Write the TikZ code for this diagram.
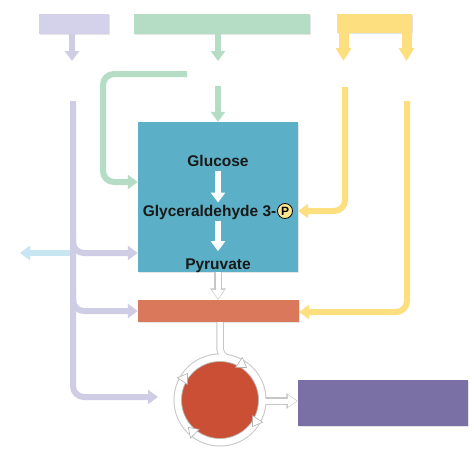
\documentclass[tikz,border=0pt]{standalone}
\usepackage{fontspec}
\setmainfont{Liberation Sans}
\usetikzlibrary{arrows.meta,shadows,calc}
\definecolor{lav}{HTML}{D4D2EA}
\definecolor{lavline}{HTML}{CFCCE6}
\definecolor{grn}{HTML}{B5DCC4}
\definecolor{yel}{HTML}{FEDF80}
\definecolor{tealbox}{HTML}{5BAFC6}
\definecolor{orng}{HTML}{D9785B}
\definecolor{redc}{HTML}{CB4F35}
\definecolor{purp}{HTML}{7A70A6}
\definecolor{lblue}{HTML}{C8E5F2}
\definecolor{pyel}{HTML}{FFE58C}
\begin{document}
\begin{tikzpicture}[x=1pt,y=-1pt,
  box/.style={draw=none, inner sep=0pt, rectangle},
  shad/.style={drop shadow={shadow xshift=1pt,shadow yshift=-1pt,opacity=0.2}},
  conn/.style={line width=6pt, -{Triangle[width=14pt,length=10pt]}, rounded corners=11pt},
  inarr/.style={white, line width=6pt, -{Triangle[width=14pt,length=10pt]}},
  wunder/.style={gray!45, line width=7.5pt, -{Triangle[width=15pt,length=11.5pt]}},
  wover/.style={white, line width=5pt, shorten >=1pt, -{Triangle[width=11.5pt,length=9pt]}},
  lbl/.style={font=\fontsize{15.5}{18}\selectfont\bfseries, text=black!90, inner sep=0pt, anchor=base},
  ringtip/.style={white, line width=0.1pt, -{Triangle[width=13pt,length=10pt,fill=white,color=gray!60,line width=0.6pt]}}
]
\fill[white] (0,0) rectangle (474,450);
\useasboundingbox (0,0) rectangle (474,450);

% boxes
\node[box, fill=lav, minimum width=70pt, minimum height=20pt, shad] (lavbox) at (74,24) {};
\node[box, fill=grn, minimum width=176pt, minimum height=20pt, shad] (grnbox) at (222,24) {};
\node[box, fill=yel, minimum width=75pt, minimum height=19pt, shad] (yelbox) at (374.5,23.5) {};
\node[box, fill=tealbox, minimum width=160pt, minimum height=150pt, shad] (glyc) at (218,197) {};
\node[box, fill=orng, minimum width=161pt, minimum height=22pt, shad] (link) at (218.5,311) {};
\node[box, fill=purp, minimum width=170pt, minimum height=46pt, shad] (etc) at (383,403) {};

% texts
\node[lbl] (glu) at (218,166.5) {Glucose};
\node[lbl, anchor=base east] (g3p) at (276.5,216) {Glyceraldehyde 3-};
\node[circle, draw=black, line width=0.8pt, fill=pyel, minimum size=15pt, inner sep=0pt,
      font=\fontsize{12}{12}\selectfont\bfseries] (pho) at (285,211) {P};
\node[lbl] (pyr) at (218,269) {Pyruvate};

\draw[inarr, shorten <=4pt, shorten >=2pt] (glu.south) -- (glu.south |- g3p.north);
\draw[inarr, shorten <=2pt, shorten >=7pt] (g3p.south -| glu.south) -- (pyr.north);

% coordinates
\coordinate (lv1) at (72,61);
\coordinate (gr1) at (218,61);
\coordinate (ye1) at (343.5,61);
\coordinate (ye2) at (406.5,61);
\coordinate (g1) at (187,74);
\coordinate (g2) at (103,74);
\coordinate (g3) at (103,182);
\coordinate (g4) at (218,86);
\coordinate (y1) at (345,87);
\coordinate (y2) at (345,211);
\coordinate (y3) at (407,101);
\coordinate (y4) at (407,312);
\coordinate (l1) at (73,101);
\coordinate (l2) at (73,397);
\coordinate (l3) at (158,397);
\coordinate (l4) at (73,232);
\coordinate (l5) at (73,253);
\coordinate (l6) at (73,289);
\coordinate (l7) at (73,311);
\coordinate (b0) at (70,253);
\coordinate (b1) at (20,253);

% top arrows
\draw[conn, lavline] (lavbox.south -| lv1) -- (lv1);
\draw[conn, grn] (grnbox.south -| gr1) -- (gr1);
\draw[yel, line width=10pt, -{Triangle[width=15pt,length=13pt]}] (yelbox.south -| ye1) -- (ye1);
\draw[yel, line width=10pt, -{Triangle[width=15pt,length=13pt]}] (yelbox.south -| ye2) -- (ye2);

% green
\draw[conn, grn] (g1) -- (g2) -- (g3) -- (g3 -| glyc.west);
\draw[conn, grn] (g4) -- (g4 |- glyc.north);

% yellow
\draw[conn, yel] (y1) -- (y2) -- (y2 -| glyc.east);
\draw[conn, yel] (y3) -- (y4) -- (y4 -| link.east);

% light blue and lavender
\draw[conn, lblue] (b0) -- (b1);
\draw[conn, lavline] (l1) -- (l2) -- (l3);
\draw[conn, lavline] (l4) -- (l5) -- (l5 -| glyc.west);
\draw[conn, lavline] (l6) -- (l7) -- (l7 -| link.west);

% white arrow glycolysis -> link
\draw[wunder] (glyc.south) -- (glyc.south |- link.north);
\draw[wover] (glyc.south) -- (glyc.south |- link.north);

% cycle
\coordinate (kc) at (220,400);
\coordinate (oj) at (220,346);
\coordinate (rj) at ($(kc)+(-75:42)$);
\coordinate (ro) at (258,401);
\draw[gray!45, line width=9pt] (kc) circle[radius=42];
\draw[gray!45, line width=7.5pt] (link.south -| kc) -- (oj) .. controls +(0,9) and +(-7,-2) .. (rj);
\draw[wunder] (ro) -- (ro -| etc.west);
\draw[white, line width=7pt] (kc) circle[radius=42];
\draw[white, line width=5.5pt] (link.south -| kc) -- (oj) .. controls +(0,9) and +(-7,-2) .. (rj);
\draw[wover] (ro) -- (ro -| etc.west);
\node[circle, fill=redc, draw=gray!55, line width=0.7pt, minimum size=77pt, inner sep=0pt] (krebs) at (kc) {};
\foreach \a in {-50,40,140,220}{
  \draw[ringtip] ($(kc)+(\a-12:42)$) -- ($(kc)+(\a:42)$);
}
\end{tikzpicture}
\end{document}
